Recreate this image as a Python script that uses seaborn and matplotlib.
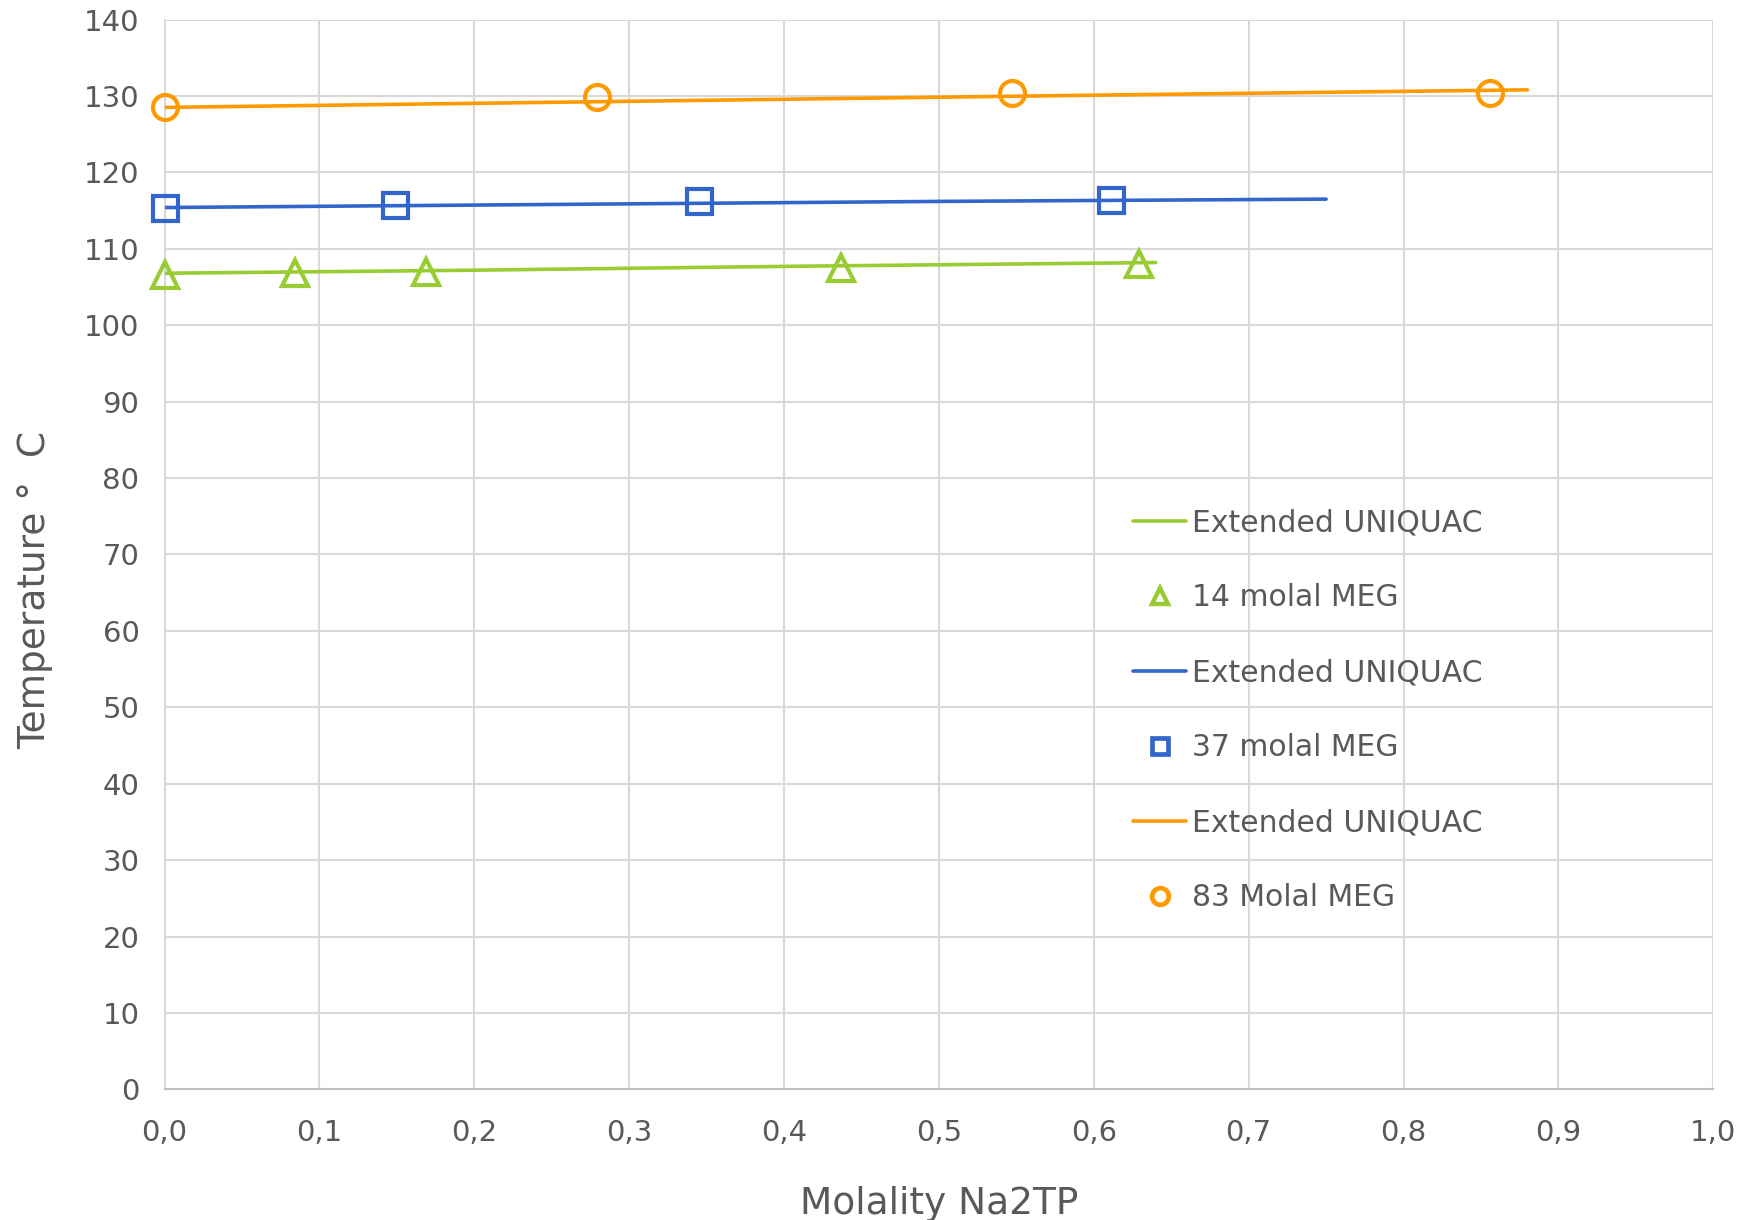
import numpy as np
import pandas as pd
import matplotlib
matplotlib.use("Agg")
import matplotlib.pyplot as plt
import seaborn as sns
from matplotlib.lines import Line2D
from matplotlib.ticker import FuncFormatter, MultipleLocator


# ==========================
# DATA
# ==========================

# 14 molal MEG
meg14_x = [0.0, 0.084, 0.169, 0.437, 0.629]
meg14_y = [106.6, 106.8, 107.0, 107.5, 108.0]
meg14_model_x = [0.0, 0.2, 0.4, 0.64]
meg14_model_y = [106.8, 107.2, 107.7, 108.2]

# 37 molal MEG
meg37_x = [0.0, 0.149, 0.345, 0.611]
meg37_y = [115.3, 115.7, 116.2, 116.4]
meg37_model_x = [0.0, 0.25, 0.5, 0.75]
meg37_model_y = [115.4, 115.8, 116.2, 116.5]

# 83 molal MEG
meg83_x = [0.0, 0.279, 0.547, 0.856]
meg83_y = [128.5, 129.9, 130.4, 130.4]
meg83_model_x = [0.0, 0.3, 0.6, 0.88]
meg83_model_y = [128.5, 129.3, 130.1, 130.8]

green = "#99CC33"
blue = "#3366CC"
orange = "#FF9900"
grey_text = "#595959"


# ==========================
# FIGURE
# ==========================

sns.set_style("white")
plt.rcParams["font.family"] = ["DejaVu Sans"]

fig, ax = plt.subplots(figsize=(17.5, 12.2), dpi=100)
fig.subplots_adjust(left=0.094, right=0.979, top=0.984, bottom=0.107)

series = [
    (meg14_model_x, meg14_model_y, meg14_x, meg14_y, green, "^", 19),
    (meg37_model_x, meg37_model_y, meg37_x, meg37_y, blue, "s", 18),
    (meg83_model_x, meg83_model_y, meg83_x, meg83_y, orange, "o", 18),
]

for mx, my, px, py, col, mk, ms in series:
    sns.lineplot(x=mx, y=my, ax=ax, color=col, lw=2.6, zorder=3)
    ax.plot(px, py, linestyle="none", marker=mk, markersize=ms,
            markerfacecolor="none", markeredgecolor=col,
            markeredgewidth=3.0, zorder=4, clip_on=False)

ax.set_xlim(0, 1.0)
ax.set_ylim(0, 140)
ax.xaxis.set_major_locator(MultipleLocator(0.1))
ax.yaxis.set_major_locator(MultipleLocator(10))
ax.xaxis.set_major_formatter(FuncFormatter(lambda v, p: f"{v:.1f}".replace(".", ",")))

ax.grid(True, color="#d9d9d9", lw=1.5)
ax.set_axisbelow(True)
for side in ["top", "right"]:
    ax.spines[side].set_visible(False)
ax.spines["left"].set_color("#d9d9d9")
ax.spines["left"].set_linewidth(1.5)
ax.spines["bottom"].set_color("#bfbfbf")
ax.spines["bottom"].set_linewidth(1.5)

ax.tick_params(axis="both", length=0, labelsize=21, labelcolor=grey_text)
ax.tick_params(axis="x", pad=21)
ax.tick_params(axis="y", pad=18)

ax.set_xlabel("Molality Na2TP", fontsize=27, color=grey_text, labelpad=28)
ax.set_ylabel("Temperature °  C", fontsize=27, color=grey_text, labelpad=22)
ax.yaxis.label.set_y(0.467)


# ==========================
# LEGEND
# ==========================

handles = [
    Line2D([], [], color=green, lw=2.6),
    Line2D([], [], color=green, marker="^", linestyle="none", markersize=12,
           markerfacecolor="none", markeredgewidth=3.2),
    Line2D([], [], color=blue, lw=2.6),
    Line2D([], [], color=blue, marker="s", linestyle="none", markersize=11.5,
           markerfacecolor="none", markeredgewidth=3.4),
    Line2D([], [], color=orange, lw=2.6),
    Line2D([], [], color=orange, marker="o", linestyle="none", markersize=12,
           markerfacecolor="none", markeredgewidth=3.4),
]
labels = ["Extended UNIQUAC", "14 molal MEG",
          "Extended UNIQUAC", "37 molal MEG",
          "Extended UNIQUAC", "83 Molal MEG"]

leg = ax.legend(handles, labels, loc="upper left", bbox_to_anchor=(0.616, 0.557),
                frameon=False, fontsize=21.5, labelspacing=1.54,
                handlelength=1.75, handletextpad=0.2, borderpad=0)
for t in leg.get_texts():
    t.set_color(grey_text)

plt.savefig("out.png", dpi=100)
plt.close()
